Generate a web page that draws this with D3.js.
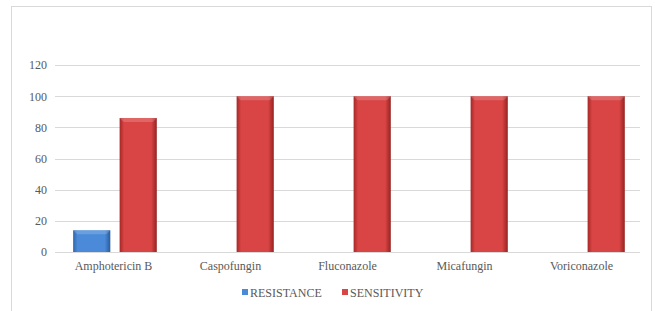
<!DOCTYPE html>
<html lang="en">
<head>
<meta charset="UTF-8" />
<title>Antifungal susceptibility</title>
<style>
    html, body { margin: 0; padding: 0; background: #fff; }
    svg text { fill: #595959; }
</style>
</head>
<body>
<div id="chart"></div>
<script src="https://cdn.jsdelivr.net/npm/d3@7"></script>
<script>
const drugs = ["Amphotericin B", "Caspofungin", "Fluconazole", "Micafungin", "Voriconazole"];
const seriesNames = ["RESISTANCE", "SENSITIVITY"];
const resistance = [14, 0, 0, 0, 0];
const sensitivity = [86, 100, 100, 100, 100];
const yTicks = [0, 20, 40, 60, 80, 100, 120];

const width = 655, height = 311;
const margin = { top: 65, right: 15, bottom: 59, left: 55 };
const serif = "Liberation Serif";

const svg = d3.select("#chart").append("svg")
    .attr("width", width)
    .attr("height", height);

// outer chart frame
svg.append("rect")
    .attr("x", 11.5).attr("y", 6.5)
    .attr("width", 640).attr("height", 310)
    .attr("fill", "#fff")
    .attr("stroke", "#d9d9d9");

const defs = svg.append("defs");
const colors = { RESISTANCE: ["#2f66ad", "#4a8ad8", "#2a5c9c"], SENSITIVITY: ["#a52828", "#d94444", "#952222"] };
seriesNames.forEach(s => {
    const g = defs.append("linearGradient").attr("id", "grad-" + s).attr("x1", 0).attr("x2", 1);
    g.append("stop").attr("offset", "0%").attr("stop-color", colors[s][0]);
    g.append("stop").attr("offset", "12%").attr("stop-color", colors[s][1]);
    g.append("stop").attr("offset", "85%").attr("stop-color", colors[s][1]);
    g.append("stop").attr("offset", "100%").attr("stop-color", colors[s][2]);
});

const x0 = d3.scaleBand().domain(drugs).range([margin.left, width - margin.right]);
const x1 = d3.scaleBand().domain(seriesNames).range([x0.bandwidth() * 0.155, x0.bandwidth() * 0.87]).paddingInner(0.2);
const y = d3.scaleLinear().domain([0, 120]).range([height - margin.bottom, margin.top]);

// gridlines
svg.append("g")
    .selectAll("line")
    .data(yTicks)
    .join("line")
    .attr("x1", margin.left).attr("x2", width - margin.right)
    .attr("y1", d => Math.round(y(d)) + 0.5).attr("y2", d => Math.round(y(d)) + 0.5)
    .attr("stroke", "#d9d9d9");

// y axis labels
const yAxis = svg.append("g")
    .attr("transform", `translate(${margin.left},0)`)
    .call(d3.axisLeft(y).tickValues(yTicks).tickSize(0).tickPadding(8));
yAxis.select(".domain").remove();
yAxis.selectAll("text").attr("font-size", 12).attr("fill", "#595959").style("font-family", serif);

// x axis labels
const xAxis = svg.append("g")
    .attr("transform", `translate(0,${height - margin.bottom})`)
    .call(d3.axisBottom(x0).tickSize(0).tickPadding(9));
xAxis.select(".domain").remove();
xAxis.selectAll("text").attr("font-size", 12).attr("fill", "#595959").style("font-family", serif);

const rows = drugs.map((d, i) => ({ drug: d, values: [
    { key: "RESISTANCE", value: resistance[i] },
    { key: "SENSITIVITY", value: sensitivity[i] }
] }));

const groups = svg.append("g").selectAll("g")
    .data(rows)
    .join("g")
    .attr("transform", d => `translate(${x0(d.drug)},0)`);

const bars = groups.selectAll("g.bar")
    .data(d => d.values.filter(v => v.value > 0))
    .join("g")
    .attr("class", "bar");

bars.append("rect")
    .attr("x", d => x1(d.key))
    .attr("y", d => y(d.value))
    .attr("width", x1.bandwidth())
    .attr("height", d => y(0) - y(d.value))
    .attr("fill", d => `url(#grad-${d.key})`);

// bevel highlight on top edge
bars.append("path")
    .attr("d", d => {
        const l = x1(d.key), r = l + x1.bandwidth(), t = y(d.value), b = 4;
        return `M${l},${t}L${r},${t}L${r - b},${t + b}L${l + b},${t + b}Z`;
    })
    .attr("fill", "#fff")
    .attr("opacity", 0.18);

// legend
const legend = svg.append("g").attr("transform", "translate(242,293)");
const items = legend.selectAll("g")
    .data(seriesNames)
    .join("g")
    .attr("transform", (d, i) => `translate(${i * 100},0)`);
items.append("rect")
    .attr("x", 0).attr("y", -4)
    .attr("width", 6).attr("height", 6)
    .attr("fill", d => colors[d][1]);
items.append("text")
    .attr("x", 8).attr("y", 4)
    .attr("font-size", 12)
    .style("font-family", serif)
    .text(d => d);
</script>
</body>
</html>
